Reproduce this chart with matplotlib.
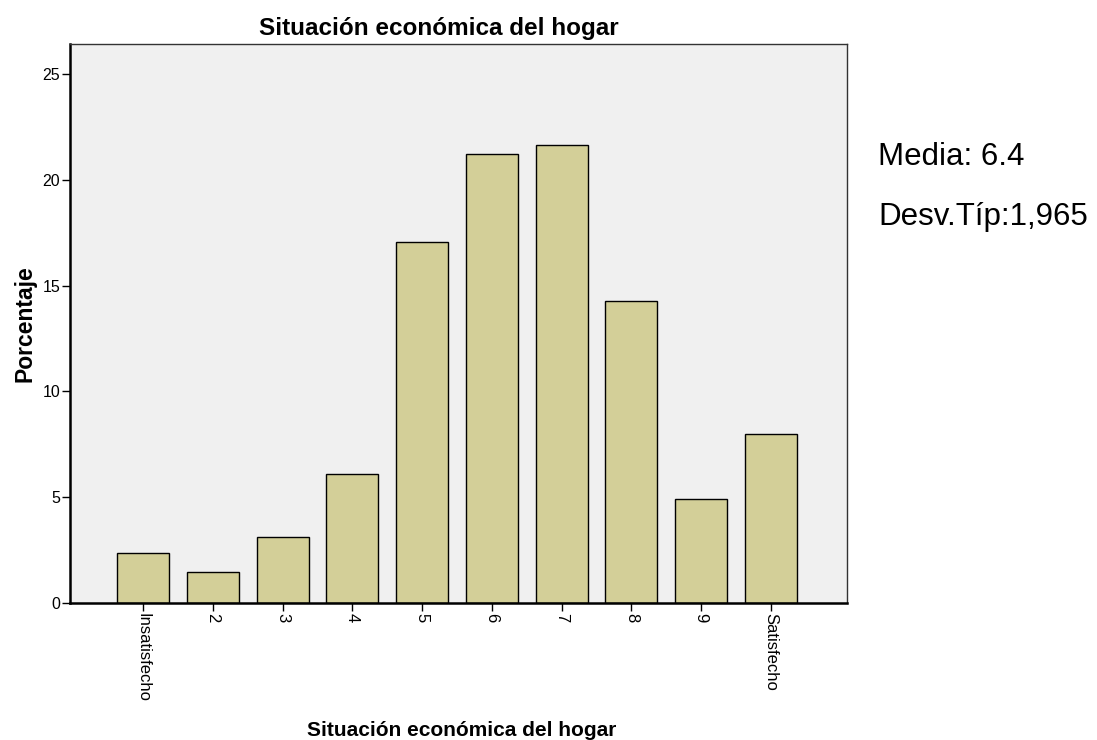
import numpy as np
import matplotlib
matplotlib.use('Agg')
import matplotlib.pyplot as plt

plt.rcParams['font.family'] = ['Liberation Sans', 'DejaVu Sans']

categories = ['Insatisfecho', '2', '3', '4', '5', '6', '7', '8', '9', 'Satisfecho']
porcentaje = [2.38, 1.45, 3.14, 6.12, 17.06, 21.2, 21.63, 14.26, 4.91, 7.97]
yticks = [0, 5, 10, 15, 20, 25]

fig = plt.figure(figsize=(10.97, 7.40), dpi=100)
ax = fig.add_axes([70/1097, 1 - 603/740, 777/1097, 559/740])
ax.set_facecolor('#f0f0f0')

x = np.arange(len(categories))
ax.bar(x, porcentaje, width=0.745, color='#d3cf98', edgecolor='black', linewidth=1.0)

ax.set_xlim(-1.046, 10.09)
ax.set_ylim(0, 26.42)
ax.set_yticks(yticks)
ax.set_xticks(x)
ax.set_xticklabels(categories, rotation=270, fontsize=12)
ax.tick_params(axis='y', labelsize=11.5, length=6, width=1, direction='out', pad=1)
ax.tick_params(axis='x', length=6, width=1, direction='out', pad=1)

for s in ['left', 'bottom']:
    ax.spines[s].set_linewidth(1.8)
for s in ['top', 'right']:
    ax.spines[s].set_linewidth(1.0)
    ax.spines[s].set_color('#333333')

ax.set_ylabel('Porcentaje', fontsize=16.5, fontweight='bold', labelpad=4)
fig.text(462/1097, 1 - 731/740, 'Situación económica del hogar', ha='center', va='center',
         fontsize=15, fontweight='bold')
fig.text(439/1097, 1 - 28/740, 'Situación económica del hogar', ha='center', va='center',
         fontsize=17.5, fontweight='bold')

fig.text(878/1097, 1 - 157/740, 'Media: 6.4', ha='left', va='center', fontsize=22.5)
fig.text(878/1097, 1 - 217/740, 'Desv.Típ:1,965', ha='left', va='center', fontsize=22.5)

fig.savefig('out.png', dpi=100)
